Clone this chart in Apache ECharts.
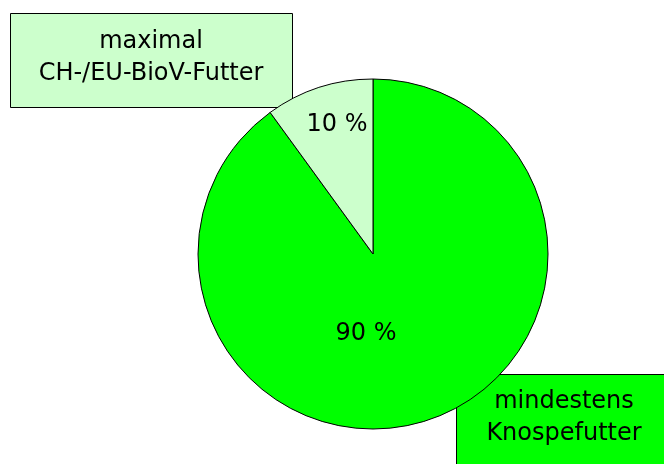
<!DOCTYPE html>
<html>
<head>
<meta charset="utf-8">
<script src="https://cdn.jsdelivr.net/npm/echarts@6/dist/echarts.min.js"></script>
<style>
  html, body { margin: 0; padding: 0; background: #fff; }
  #chart { width: 664px; height: 464px; }
</style>
</head>
<body>
<div id="chart"></div>
<script>
// Futteranteile (Prozent)
const categories = ['mindestens\nKnospefutter', 'maximal\nCH-/EU-BioV-Futter'];
const values = [90, 10];
const colors = ['#00ff00', '#ccffcc'];

// shift the inside labels a bit, like the original
const labelShift = [[-35, -6], [-8, -43]];

const FONT = 'DejaVu Sans';

const chart = echarts.init(document.getElementById('chart'));

let option = {
  animation: false,
  backgroundColor: '#ffffff',
  series: [{
    type: 'pie',
    center: [373, 254],
    radius: 175,
    startAngle: 90,
    clockwise: true,
    silent: true,
    data: values.map((v, i) => ({
      name: categories[i],
      value: v,
      itemStyle: { color: colors[i] }
    })),
    itemStyle: {
      borderColor: '#000',
      borderWidth: 1
    },
    label: {
      show: true,
      position: 'inside',
      formatter: '{c} %',
      color: '#000',
      fontFamily: FONT,
      fontSize: 24
    },
    labelLine: { show: false },
    labelLayout: function (params) {
      const s = labelShift[params.dataIndex];
      return { dx: s[0], dy: s[1] };
    }
  }],
  graphic: [
    {
      type: 'group',
      z: 100,
      children: [
        {
          type: 'rect',
          shape: { x: 10.5, y: 13.5, width: 282, height: 94 },
          style: { fill: colors[1], stroke: '#000', lineWidth: 1 }
        },
        {
          type: 'text',
          x: 151, y: 57.5,
          style: {
            text: categories[1],
            fill: '#000',
            font: '24px "' + FONT + '"',
            lineHeight: 32,
            align: 'center',
            verticalAlign: 'middle'
          }
        }
      ]
    },
    {
      type: 'group',
      z: 100,
      children: [
        {
          type: 'rect',
          shape: { x: 456.5, y: 374.5, width: 215, height: 100 },
          style: { fill: colors[0], stroke: '#000', lineWidth: 1 }
        },
        {
          type: 'text',
          x: 564, y: 417.5,
          style: {
            text: categories[0],
            fill: '#000',
            font: '24px "' + FONT + '"',
            lineHeight: 32,
            align: 'center',
            verticalAlign: 'middle'
          }
        }
      ]
    }
  ]
};

chart.setOption(option);
</script>
</body>
</html>
